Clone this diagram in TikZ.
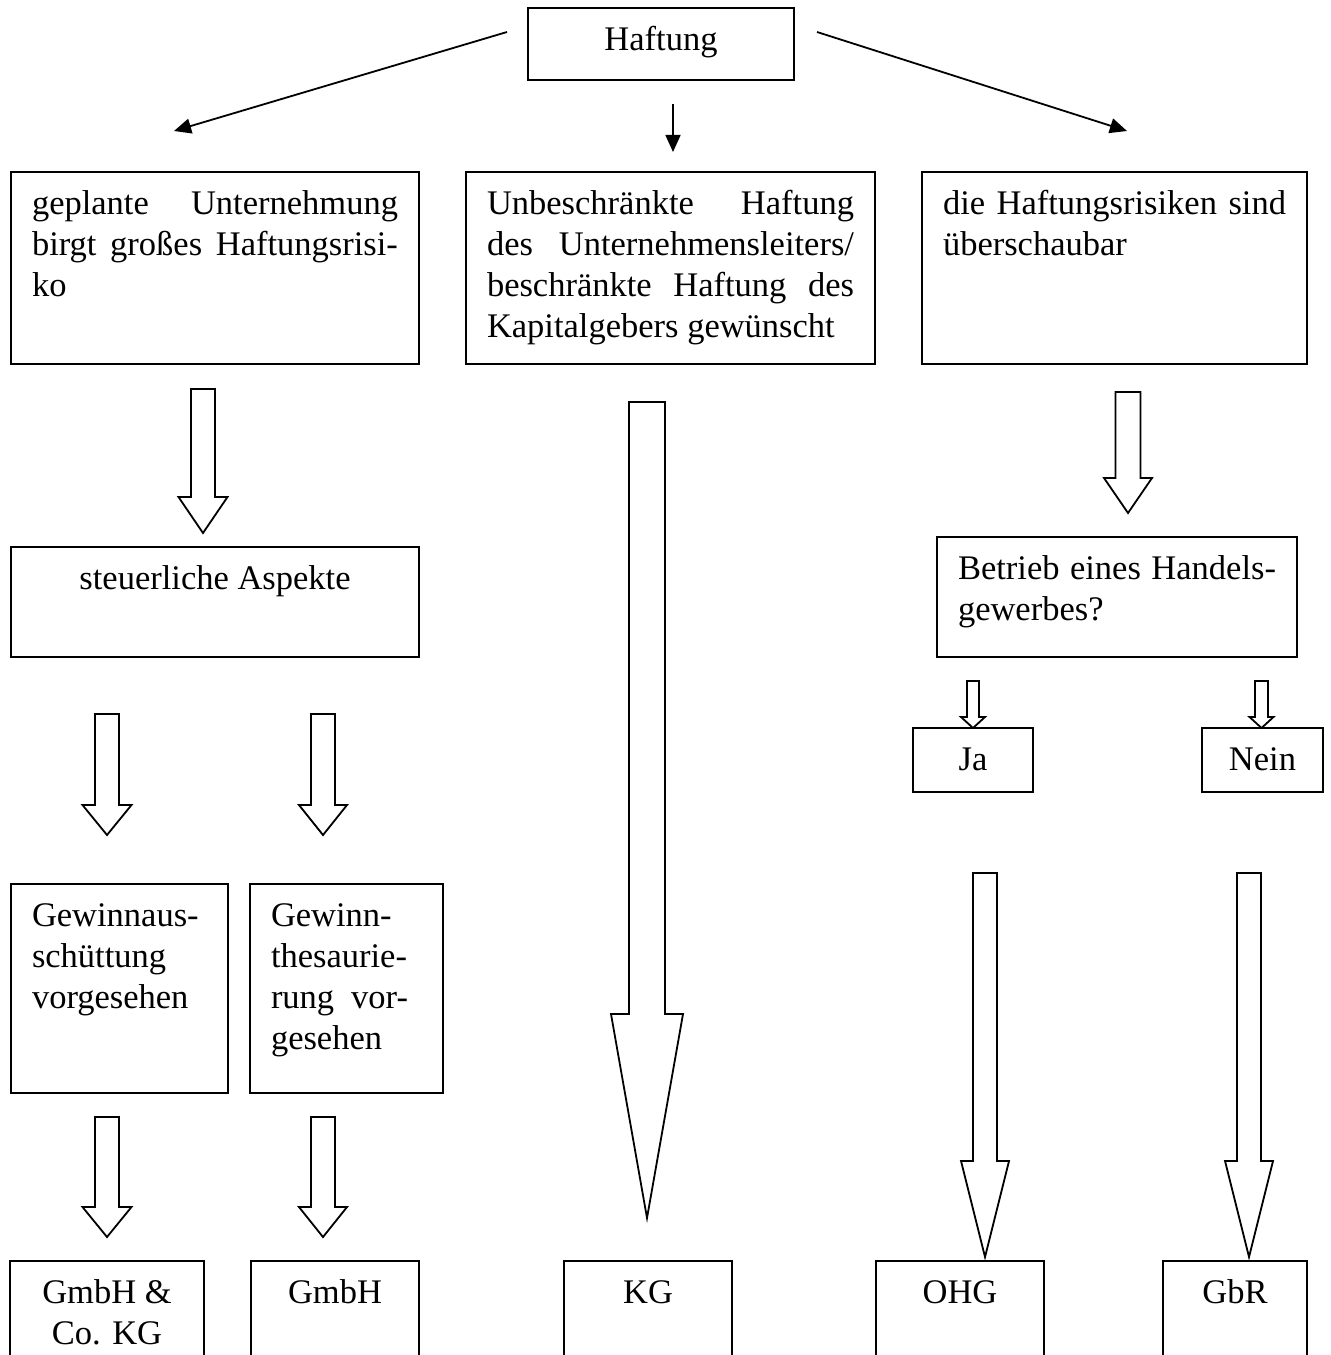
\documentclass[tikz,border=0pt]{standalone}
\usepackage{fontspec}
\setmainfont{Liberation Serif}
\usetikzlibrary{arrows.meta}
\newlength\unitpx
\setlength\unitpx{0.33333pt}
\tikzset{
  bx/.style={draw, line width=0.6pt, anchor=north west, inner xsep=7pt, inner ysep=0pt, outer sep=0pt,
    font=\fontsize{11.5}{13.6}\selectfont},
  blk/.style={draw, line width=0.6pt, line join=miter},
  conn/.style={draw, line width=0.6pt, -{Triangle[length=5.7pt,width=5pt]}},
}
% #1 text width (px), #2 box height (px), #3 text
\newcommand\boxtxt[3]{\parbox[t][#2\unitpx][t]{#1\unitpx}{\rule{0pt}{14.3pt}#3}}
\newcommand\fillline[1]{\makebox[\linewidth][s]{#1}}
% cx, top, half shaft, head y, half head, tip y
\newcommand\blockarr[6]{\draw[blk] ({#1-#3},#2) -- ({#1+#3},#2) -- ({#1+#3},#4) -- ({#1+#5},#4) -- (#1,#6) -- ({#1-#5},#4) -- ({#1-#3},#4) -- cycle;}
\begin{document}
\begin{tikzpicture}[x=0.33333pt, y=-0.33333pt]
\useasboundingbox (0,0) rectangle (1330,1355);
% boxes
\node[bx] (haft) at (528,8) {\boxtxt{224}{72}{\centering Haftung}};
\node[bx] (b1) at (11,172) {\boxtxt{366}{192}{\fillline{geplante Unternehmung}\\\fillline{birgt großes Haftungsrisi-}\\ko}};
\node[bx] (b2) at (466,172) {\boxtxt{367}{192}{\fillline{Unbeschränkte Haftung}\\\fillline{des Unternehmensleiters/}\\\fillline{beschränkte Haftung des}\\Kapitalgebers gewünscht}};
\node[bx] (b3) at (922,172) {\boxtxt{343}{192}{\fillline{die Haftungsrisiken sind}\\überschaubar}};
\node[bx] (steuer) at (11,547) {\boxtxt{366}{110}{\centering steuerliche Aspekte}};
\node[bx] (betr) at (937,537) {\boxtxt{318}{120}{\fillline{Betrieb eines Handels-}\\gewerbes?}};
\node[bx] (ja) at (913,728) {\boxtxt{78}{64}{\centering Ja}};
\node[bx] (nein) at (1202,728) {\boxtxt{79}{64}{\centering Nein}};
\node[bx] (gaus) at (11,884) {\boxtxt{175}{209}{Gewinnaus-\\schüttung\\vorgesehen}};
\node[bx] (gthes) at (250,884) {\boxtxt{151}{209}{Gewinn-\\thesaurie-\\\makebox[137\unitpx][s]{rung vor-}\\gesehen}};
\node[bx] (gco) at (10,1261) {\boxtxt{152}{130}{\centering GmbH \&\\Co. KG}};
\node[bx] (gmbh) at (251,1261) {\boxtxt{126}{130}{\centering GmbH}};
\node[bx] (kg) at (564,1261) {\boxtxt{126}{130}{\centering KG}};
\node[bx] (ohg) at (876,1261) {\boxtxt{126}{130}{\centering OHG}};
\node[bx] (gbr) at (1163,1261) {\boxtxt{102}{130}{\centering GbR}};
% thin connectors
\coordinate (hl) at (507,32);  \coordinate (hlt) at (174,131);
\coordinate (hm) at (673,104); \coordinate (hmt) at (673,152);
\coordinate (hr) at (817,32);  \coordinate (hrt) at (1127,131);
\draw[conn] (hl) -- (hlt);
\draw[conn] (hm) -- (hmt);
\draw[conn] (hr) -- (hrt);
% block arrows
\blockarr{203}{389}{12}{497}{24.5}{533}
\blockarr{107}{714}{12}{805}{24.5}{835}
\blockarr{323}{714}{12}{805}{24}{835}
\blockarr{107}{1117}{12}{1207}{24.5}{1237}
\blockarr{323}{1117}{12}{1207}{24}{1237}
\blockarr{647}{402}{18}{1014}{36}{1218}
\blockarr{1128}{392}{12.5}{478}{24}{513}
\blockarr{973}{681}{6}{717}{12}{728}
\blockarr{1261.5}{681}{6.5}{717}{12}{728}
\blockarr{985}{873}{12}{1161}{24}{1257}
\blockarr{1249}{873}{12}{1161}{24}{1257}
\end{tikzpicture}
\end{document}
